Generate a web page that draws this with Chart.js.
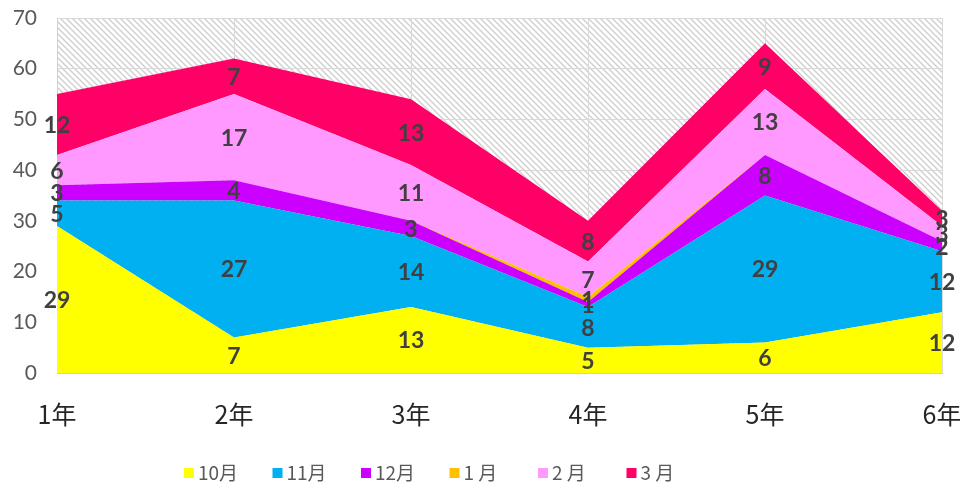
<!DOCTYPE html>
<html><head><meta charset="utf-8">
<script src="https://cdn.jsdelivr.net/npm/chart.js@4/dist/chart.umd.min.js"></script>
<style>html,body{margin:0;padding:0;background:#fff}#wrap{width:960px;height:484px}</style>
</head><body><div id="wrap"><canvas id="c" width="960" height="484"></canvas></div>
<script>
const categories = ['1年','2年','3年','4年','5年','6年'];
const seriesNames = ['10月','11月','12月','1 月','2 月','3 月'];
const oct = [29, 7, 13, 5, 6, 12];
const nov = [5, 27, 14, 8, 29, 12];
const dec = [3, 4, 3, 1, 8, 2];
const jan = [0, 0, 0, 1, 0, 0];
const feb = [6, 17, 11, 7, 13, 3];
const mar = [12, 7, 13, 8, 9, 3];
const yTicks = [0,10,20,30,40,50,60,70];
const colors = ['#FFFF00','#00B0F0','#CC00FF','#FFC000','#FF99FF','#FF0066'];
const allSeries = [oct, nov, dec, jan, feb, mar];

function hatch(){
  const t = document.createElement('canvas'); t.width = 6; t.height = 6;
  const g = t.getContext('2d');
  g.fillStyle = '#fff'; g.fillRect(0,0,6,6);
  g.strokeStyle = '#cfcfcf'; g.lineWidth = 1.4;
  g.beginPath();
  g.moveTo(-1,-1); g.lineTo(7,7);
  g.moveTo(-1,5); g.lineTo(1,7);
  g.moveTo(5,-1); g.lineTo(7,1);
  g.stroke();
  return t;
}

const bgPlugin = {
  id: 'bg',
  beforeDraw(chart){
    const {ctx, chartArea:a} = chart;
    ctx.save();
    ctx.fillStyle = ctx.createPattern(hatch(), 'repeat');
    ctx.fillRect(a.left, a.top, a.right-a.left, a.bottom-a.top);
    ctx.restore();
  }
};

const labelPlugin = {
  id: 'lbl',
  afterDatasetsDraw(chart){
    const {ctx} = chart;
    const xs = chart.scales.x, ys = chart.scales.y;
    ctx.save();
    ctx.font = 'bold 23px Lato, "Noto Sans", sans-serif';
    ctx.fillStyle = '#404040';
    ctx.textAlign = 'center'; ctx.textBaseline = 'middle';
    categories.forEach((c, i) => {
      let cum = 0;
      chart.data.datasets.forEach(ds => {
        const v = ds.data[i];
        if (v > 0) {
          ctx.fillText(String(v), xs.getPixelForValue(i), ys.getPixelForValue(cum + v/2) + 1);
        }
        cum += v;
      });
    });
    ctx.restore();
  }
};

const legendPlugin = {
  id: 'lg',
  afterDraw(chart){
    const {ctx} = chart;
    ctx.save();
    ctx.font = '19px "Noto Sans CJK JP", sans-serif';
    ctx.textBaseline = 'middle'; ctx.textAlign = 'left';
    chart.data.datasets.forEach((ds, k) => {
      const x = 184 + k*88.5, y = 473;
      ctx.fillStyle = ds.backgroundColor;
      ctx.fillRect(x, y-5, 10, 10);
      ctx.fillStyle = '#595959';
      ctx.fillText(ds.label, x + 14, y);
    });
    ctx.restore();
  }
};

new Chart(document.getElementById('c'), {
  type: 'line',
  data: {
    labels: categories,
    datasets: allSeries.map((d, k) => ({
      label: seriesNames[k],
      data: d,
      backgroundColor: colors[k],
      borderColor: colors[k],
      borderWidth: 0,
      pointRadius: 0,
      tension: 0,
      fill: k === 0 ? 'origin' : '-1'
    }))
  },
  options: {
    responsive: false,
    animation: false,
    devicePixelRatio: 1,
    layout: { padding: { top: 18, right: 18, left: 0, bottom: 0 } },
    plugins: { legend: { display: false }, tooltip: { enabled: false } },
    scales: {
      x: {
        offset: false,
        grid: { color: '#d9d9d9', drawTicks: false, lineWidth: 1 },
        border: { color: '#d0d0d0', width: 1 },
        ticks: { color: '#262626', font: { size: 25, family: '"Noto Sans CJK JP", sans-serif' }, padding: 26, maxRotation: 0, autoSkip: false },
        afterFit(s){ s.height = 111; s.paddingLeft = 0; s.paddingRight = 0; }
      },
      y: {
        stacked: true,
        min: 0, max: 70,
        grid: { color: '#d9d9d9', drawTicks: false, lineWidth: 1 },
        border: { color: '#d0d0d0', width: 1 },
        afterBuildTicks(s){ s.ticks = yTicks.map(v => ({value: v})); },
        ticks: { color: '#595959', font: { size: 21, family: 'Lato, "Noto Sans", sans-serif' }, padding: 20 },
        afterFit(s){ s.width = 57; s.paddingTop = 0; s.paddingBottom = 0; }
      }
    }
  },
  plugins: [bgPlugin, labelPlugin, legendPlugin]
});
</script></body></html>
